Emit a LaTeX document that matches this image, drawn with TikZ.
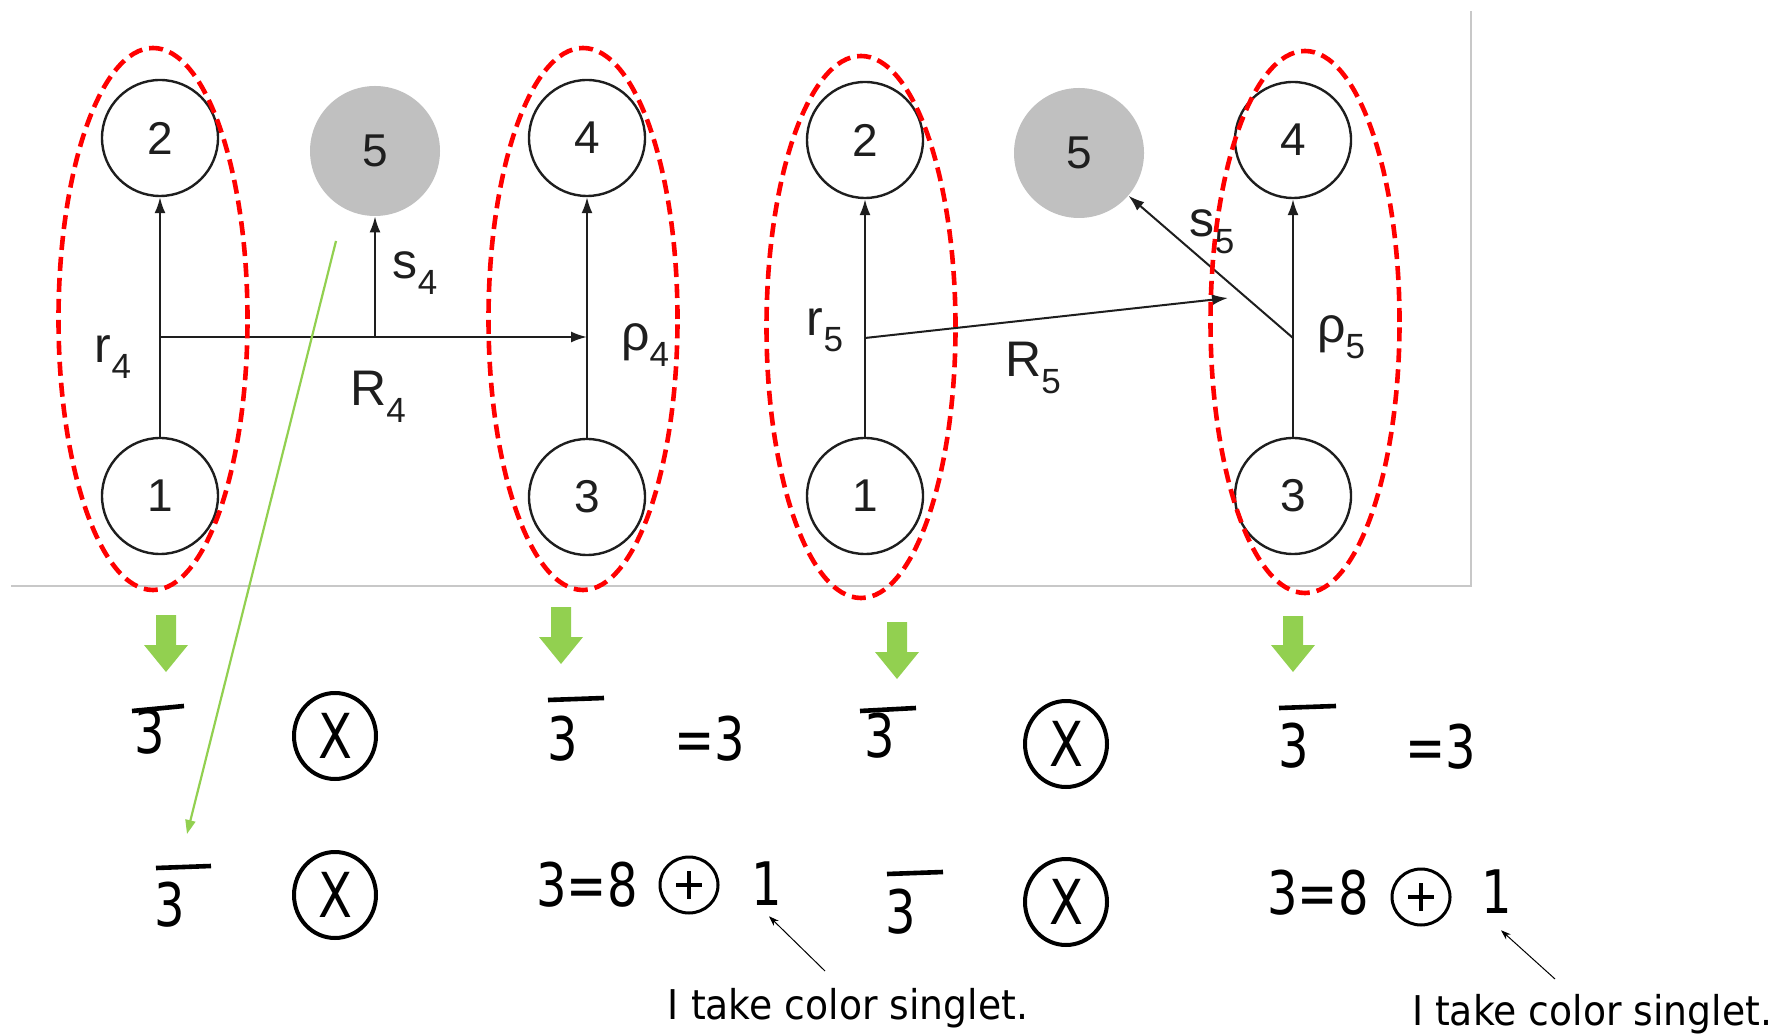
\documentclass[tikz,border=0pt]{standalone}
\usepackage{fontspec}
\setmainfont{Liberation Sans}
\newfontfamily\pts[FakeStretch=0.8]{DejaVu Sans}
\newfontfamily\ptt[FakeStretch=0.92]{DejaVu Sans}
\usetikzlibrary{arrows.meta,shapes.geometric}
\definecolor{redd}{HTML}{FF0000}
\definecolor{grn}{HTML}{92D050}
\definecolor{gfive}{HTML}{C0C0C0}
\definecolor{ink}{HTML}{1E1E1E}
\definecolor{framec}{HTML}{C8C8C8}
\newcommand\sbs[1]{\raisebox{-0.33em}{\fontsize{17.5}{17.5}\selectfont #1}}
\newcommand\gblock[3]{\fill[grn] ({#1-10},#2) -- ({#1+10},#2) -- ({#1+10},{#3-27}) -- ({#1+22},{#3-27}) -- (#1,#3) -- ({#1-22},{#3-27}) -- ({#1-10},{#3-27}) -- cycle;}
\begin{document}
\begin{tikzpicture}[x=0.5pt,y=-0.5pt,
  vtx/.style={circle,draw=ink,line width=1.2pt,minimum size=58pt,inner sep=0pt,font=\fontsize{23}{23}\selectfont,text=ink},
  gvtx/.style={circle,fill=gfive,minimum size=65pt,inner sep=0pt,font=\fontsize{23}{23}\selectfont,text=ink},
  edge/.style={draw=ink,line width=1pt,-{Latex[length=8pt,width=5.5pt]}},
  lbl/.style={inner sep=0pt,font=\fontsize{25}{25}\selectfont,text=ink},
  grp/.style={ellipse,draw=redd,line width=2.3pt,dash pattern=on 7pt off 3.5pt,inner sep=0pt,minimum width=94.5pt,minimum height=271pt},
  dig/.style={inner sep=0pt,font=\pts\fontsize{30}{30}\selectfont},
  bar/.style={line width=2.3pt},
  otimesn/.style={ellipse,draw,line width=2pt,inner sep=0pt,minimum width=41pt,minimum height=43pt,font=\pts\fontsize{31}{31}\selectfont},
  oplusn/.style={ellipse,draw,line width=1.5pt,inner sep=0pt,minimum width=29pt,minimum height=28pt,
    path picture={\draw[line width=1.8pt] ([xshift=-6.5pt]path picture bounding box.center) -- ([xshift=6.5pt]path picture bounding box.center);
                  \draw[line width=1.8pt] ([yshift=-7pt]path picture bounding box.center) -- ([yshift=7pt]path picture bounding box.center);}},
  note/.style={inner sep=0pt,anchor=base,font=\ptt\fontsize{20.5}{20.5}\selectfont},
  thinarr/.style={line width=0.5pt,-{Stealth[length=5pt,width=3.5pt]}},
  gline/.style={draw=grn,line width=1.1pt,-{Triangle[length=7pt,width=5pt]}}
]
\useasboundingbox (0,0) rectangle (1780,1036);
% frame
\draw[framec,line width=1pt] (11,586) -- (1471,586) -- (1471,11);
% left diagram
\node[vtx] (n2) at (160,138) {2};
\node[vtx] (n1) at (160,496) {1};
\node[vtx] (n4) at (587,138) {4};
\node[vtx] (n3) at (587,497) {3};
\node[gvtx] (n5) at (375,151) {5};
\coordinate (j4) at (160,337);
\coordinate (k4) at (587,337);
\coordinate (q4) at (375,337);
\draw[edge] (n1) -- (n2);
\draw[edge] (n3) -- (n4);
\draw[edge] (j4) -- (k4);
\draw[edge] (q4) -- (n5);
\node[lbl] (lr4) at (113,357) {r\sbs{4}};
\node[lbl] (ls4) at (415,273) {s\sbs{4}};
\node[lbl] (lR4) at (378,397) {R\sbs{4}};
\node[lbl] (lp4) at (645,345) {ρ\sbs{4}};
% right diagram
\node[vtx] (m2) at (865,140) {2};
\node[vtx] (m1) at (865,496) {1};
\node[vtx] (m4) at (1293,140) {4};
\node[vtx] (m3) at (1293,496) {3};
\node[gvtx] (m5) at (1079,153) {5};
\coordinate (j5) at (865,338);
\coordinate (k5) at (1228,298);
\coordinate (q5) at (1293,338);
\draw[edge] (m1) -- (m2);
\draw[edge] (m3) -- (m4);
\draw[edge] (j5) -- (k5);
\draw[edge] (q5) -- (m5);
\node[lbl] (lr5) at (825,330) {r\sbs{5}};
\node[lbl] (lR5) at (1033,368) {R\sbs{5}};
\node[lbl] (ls5) at (1212,232) {s\sbs{5}};
\node[lbl] (lp5) at (1341,337) {ρ\sbs{5}};
% red groups
\node[grp] (ga) at (153,319) {};
\node[grp] (gb) at (583,319) {};
\node[grp] (gc) at (861,327) {};
\node[grp] (gd) at (1305,322) {};
% green block arrows
\gblock{166}{615}{672}
\gblock{561}{607}{664}
\gblock{897}{622}{679}
\gblock{1293}{616}{672}
% row 1
\node[dig] (t1) at (150,732) {3};
\draw[bar] (132,711) -- (184,706);
\node[otimesn] (x1) at (335,736) {X};
\node[dig] (t2) at (563,739) {3};
\draw[bar] (548,700) -- (604,698);
\node[dig] (e1) at (710,739) {=3};
\node[dig] (t3) at (880,736) {3};
\draw[bar] (860,711) -- (916,708);
\node[otimesn] (x3) at (1066,744) {X};
\node[dig] (t4) at (1294,746) {3};
\draw[bar] (1279,708) -- (1336,706);
\node[dig] (e2) at (1441,747) {=3};
% row 2
\node[dig] (t5) at (170,905) {3};
\draw[bar] (156,868) -- (211,866);
\node[otimesn] (x2) at (335,895) {X};
\node[dig] (f1) at (587,885) {3=8};
\node[oplusn] (p1) at (689,885) {};
\node[dig] (o1) at (767,884) {1};
\node[dig] (t6) at (901,912) {3};
\draw[bar] (887,874) -- (943,872);
\node[otimesn] (x4) at (1066,902) {X};
\node[dig] (f2) at (1318,893) {3=8};
\node[oplusn] (p2) at (1421,897) {};
\node[dig] (o2) at (1497,892) {1};
% notes
\node[note] (s1) at (848,1019) {I take color singlet.};
\node[note] (s2) at (1592,1025) {I take color singlet.};
\coordinate (c1) at (825,971);
\coordinate (c2) at (1555,979);
\draw[thinarr] (c1) -- ([xshift=1pt,yshift=-5pt]o1.south);
\draw[thinarr] (c2) -- ([xshift=2pt,yshift=-8pt]o2.south);
% green pointer
\coordinate (gs) at (336,241);
\coordinate (ge) at (187,834);
\draw[gline] (gs) -- (ge);
\end{tikzpicture}
\end{document}
